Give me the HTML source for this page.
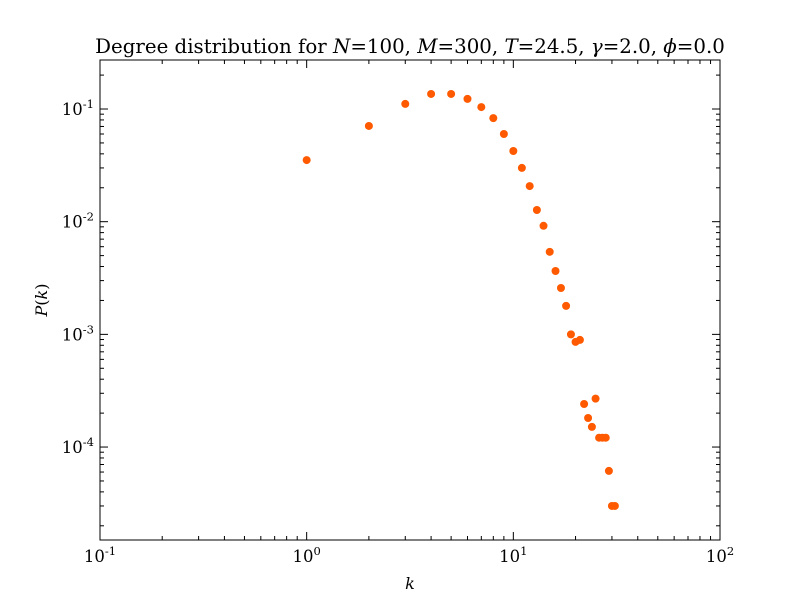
<!DOCTYPE html>
<html><head><meta charset="utf-8"><style>
body{margin:0;background:#fff;}
svg text{font-family:"DejaVu Serif","Liberation Serif",serif;fill:#000;}
</style></head><body>
<svg id="chart" width="800" height="600" xmlns="http://www.w3.org/2000/svg">
<rect width="800" height="600" fill="#fff"/>
<text x="410" y="53" text-anchor="middle" font-size="19.8">Degree distribution for <tspan font-style="italic">N</tspan>=100, <tspan font-style="italic">M</tspan>=300, <tspan font-style="italic">T</tspan>=24.5, <tspan font-style="italic">γ</tspan>=2.0, <tspan font-style="italic">ϕ</tspan>=0.0</text>
<g id="ticks"></g>
<g id="points"></g>
<rect x="100" y="60" width="620" height="480" fill="none" stroke="#000" stroke-width="1"/>
<text x="410" y="589" text-anchor="middle" font-size="16" font-style="italic">k</text>
<text transform="translate(47,300) rotate(-90)" text-anchor="middle" font-size="16"><tspan font-style="italic">P</tspan>(<tspan font-style="italic">k</tspan>)</text>
</svg>
<script>
const degrees=[1,2,3,4,5,6,7,8,9,10,11,12,13,14,15,16,17,18,19,20,21,22,23,24,25,26,27,28,29,30,31];
const probabilities=[0.0352,0.0707,0.111,0.136,0.136,0.123,0.104,0.083,0.060,0.0424,0.030,0.0207,0.0127,0.0092,0.0054,0.00365,0.00258,0.00179,0.0010,0.000857,0.000893,0.000241,0.000181,0.000151,0.000269,0.000121,0.000121,0.000121,0.0000614,0.00003,0.00003];
const xTickExps=[-1,0,1,2];
const yTickExps=[-4,-3,-2,-1];
const NS='http://www.w3.org/2000/svg';
const X0=100,X1=720,Y0=60,Y1=540;
const xMin=-1,xMax=2,yMin=-4.825,yMax=-0.565;
function xs(v){return X0+(Math.log10(v)-xMin)/(xMax-xMin)*(X1-X0);}
function ys(v){return Y1-(Math.log10(v)-yMin)/(yMax-yMin)*(Y1-Y0);}
function mk(tag,attrs,parent){const e=document.createElementNS(NS,tag);for(const k in attrs)e.setAttribute(k,attrs[k]);parent.appendChild(e);return e;}
const tg=document.getElementById('ticks');
function line(x1,y1,x2,y2){return mk('line',{x1,y1,x2,y2,stroke:'#000','stroke-width':1},tg);}
for(let e=xMin;e<xMax;e++){for(let m=1;m<10;m++){const x=xs(m*Math.pow(10,e));const len=m===1?8:4;
 const a=line(x,Y1,x,Y1-len);
 const b=line(x,Y0,x,Y0+len);}}
xTickExps.forEach(e=>{const x=xs(Math.pow(10,e));
 const t=mk('text',{x:x,y:Y1+22,'text-anchor':'middle','font-size':16.5},tg);
 
 
 t.innerHTML='10<tspan dy="-7" font-size="11.5">'+e+'</tspan>';});
for(let e=-5;e<0;e++){for(let m=1;m<10;m++){const v=m*Math.pow(10,e);const lv=Math.log10(v);if(lv<yMin||lv>yMax)continue;const y=ys(v);const len=m===1?8:4;
 const a=line(X0,y,X0+len,y);
 const b=line(X1,y,X1-len,y);}}
yTickExps.forEach(e=>{const y=ys(Math.pow(10,e));
 const t=mk('text',{x:X0-6,y:y+6,'text-anchor':'end','font-size':16.5},tg);
 
 
 t.innerHTML='10<tspan dy="-7" font-size="11.5">'+e+'</tspan>';});
const pg=document.getElementById('points');
degrees.forEach((k,i)=>{const c=mk('circle',{cx:xs(k),cy:ys(probabilities[i]),r:4,fill:'#ff5a00'},pg);
 
 });
</script>
</body></html>
